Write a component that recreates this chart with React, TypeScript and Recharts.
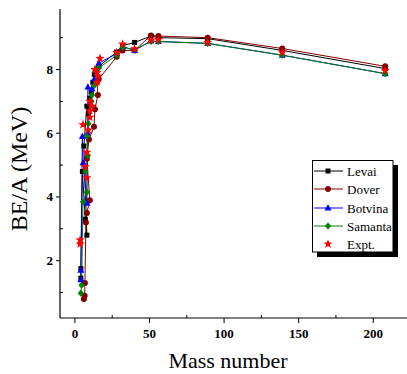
import React from 'react';
import { ComposedChart, Line, XAxis, YAxis } from 'recharts';

const levaiA = [4, 4, 5, 7, 8, 6, 8, 9, 10, 11, 12, 13, 16, 28, 32, 40, 51, 56, 89, 139, 208];
const levaiBE = [1.45, 1.75, 4.8, 3.3, 2.8, 5.6, 6.85, 6.6, 7.1, 7.3, 7.6, 7.85, 8.1, 8.55, 8.75, 8.85, 9.05, 9.0, 8.97, 8.6, 8.03];

const doverA = [6, 6.5, 6.7, 7.4, 8, 10, 8, 9.4, 12.8, 13.4, 15.4, 14.8, 16, 28, 32, 40, 51, 56, 89, 139, 208];
const doverBE = [0.8, 0.9, 1.3, 3.2, 3.5, 3.9, 5.2, 5.8, 6.2, 6.75, 7.2, 7.6, 7.7, 8.4, 8.6, 8.6, 9.07, 9.05, 9.0, 8.66, 8.1];

const botvinaA = [4, 4, 5, 5.5, 8, 8.5, 8.7, 11.4, 13, 14, 16, 28, 32, 40, 51, 56, 89, 139, 208];
const botvinaBE = [1.4, 1.7, 5.9, 5.07, 3.8, 6.0, 7.45, 7.4, 7.7, 8.0, 8.2, 8.5, 8.72, 8.6, 8.9, 8.88, 8.82, 8.45, 7.87];

const samantaA = [4, 4.5, 5.4, 8, 7, 8.7, 8, 9, 11, 11.4, 13, 16, 28, 32, 40, 51, 56, 89, 139, 208];
const samantaBE = [0.98, 1.23, 3.85, 4.15, 4.8, 5.3, 5.9, 6.3, 7.0, 7.2, 7.5, 8.05, 8.45, 8.7, 8.63, 8.88, 8.88, 8.82, 8.45, 7.87];

const exptA = [3.5, 3.5, 5.4, 8, 7, 8, 9, 10, 10, 11.4, 10, 14.8, 15.4, 14.8, 13.4, 16.8, 28, 32, 40, 51, 56, 89, 139, 208];
const exptBE = [2.65, 2.52, 6.27, 5.4, 4.95, 4.6, 6.1, 6.5, 6.7, 6.85, 7.0, 7.6, 7.8, 7.9, 8.0, 8.35, 8.53, 8.8, 8.65, 8.92, 8.94, 8.85, 8.54, 7.97];

const xTicks = [0, 25, 50, 75, 100, 125, 150, 175, 200, 225];
const yTicks = [1, 2, 3, 4, 5, 6, 7, 8, 9];
const seriesNames = ['Levai', 'Dover', 'Botvina', 'Samanta', 'Expt.'];
const xTitle = 'Mass number';
const yTitle = 'BE/A (MeV)';

const zip = (a: number[], b: number[]) => a.map((v, i) => ({ a: v, be: b[i] }));
const levai = zip(levaiA, levaiBE);
const dover = zip(doverA, doverBE);
const botvina = zip(botvinaA, botvinaBE);
const samanta = zip(samantaA, samantaBE);
const expt = zip(exptA, exptBE);

const FONT = "'Times New Roman', 'Liberation Serif', Tinos, serif";
const COLORS = ['#000000', '#800000', '#0000ff', '#008000', '#ff0000'];

const Square = ({ cx, cy, c }: any) => <rect x={cx - 2.5} y={cy - 2.5} width={5} height={5} fill={c} />;
const Circle = ({ cx, cy, c }: any) => <circle cx={cx} cy={cy} r={3} fill={c} />;
const Tri = ({ cx, cy, c }: any) => (
  <path d={`M${cx},${cy - 3.8}L${cx + 3.5},${cy + 2.5}L${cx - 3.5},${cy + 2.5}Z`} fill={c} />
);
const Diamond = ({ cx, cy, c }: any) => (
  <path d={`M${cx},${cy - 3.6}L${cx + 3.2},${cy}L${cx},${cy + 3.6}L${cx - 3.2},${cy}Z`} fill={c} />
);
const Star = ({ cx, cy, c }: any) => {
  const pts: string[] = [];
  for (let i = 0; i < 10; i++) {
    const r = i % 2 === 0 ? 4.8 : 2.0;
    const ang = -Math.PI / 2 + (i * Math.PI) / 5;
    pts.push(`${cx + r * Math.cos(ang)},${cy + r * Math.sin(ang)}`);
  }
  return <polygon points={pts.join(' ')} fill={c} />;
};
const MARKERS = [Square, Circle, Tri, Diamond, Star];

const makeDot = (idx: number) => (p: any) => {
  const M = MARKERS[idx];
  if (p.cx == null || p.cy == null) return <g key={p.index} />;
  return <M key={p.index} cx={p.cx} cy={p.cy} c={COLORS[idx]} />;
};

const BottomTick = ({ x, y, payload }: any) => {
  const v = payload.value;
  const major = v % 50 === 0;
  return (
    <g>
      {major ? (
        <line x1={x} x2={x} y1={y} y2={y + 5} stroke="#000" />
      ) : (
        <line x1={x} x2={x} y1={y} y2={y - 3} stroke="#000" />
      )}
      {major && (
        <text x={x} y={y + 20} textAnchor="middle" style={{ fontFamily: FONT, fontWeight: 'bold', fontSize: 13 }} fill="#000">
          {v}
        </text>
      )}
    </g>
  );
};

const TopTick = ({ x, y }: any) => <line x1={x} x2={x} y1={y} y2={y + 2.5} stroke="#444" />;

const LeftTick = ({ x, y, payload }: any) => {
  const v = payload.value;
  const major = v % 2 === 0;
  return (
    <g>
      {major ? (
        <line x1={x - 4} x2={x} y1={y} y2={y} stroke="#000" />
      ) : (
        <line x1={x} x2={x + 3} y1={y} y2={y} stroke="#000" />
      )}
      {major && (
        <text x={x - 7} y={y + 4.5} textAnchor="end" style={{ fontFamily: FONT, fontWeight: 'bold', fontSize: 13 }} fill="#000">
          {v}
        </text>
      )}
    </g>
  );
};

const LegendBox = () => {
  const rows = [171, 189, 208, 226, 244];
  return (
    <g>
      <rect x={317} y={165} width={81} height={92} fill="#000" />
      <rect x={312.5} y={160.5} width={80.5} height={91.5} fill="#fff" stroke="#000" />
      {seriesNames.map((n, i) => {
        const M = MARKERS[i];
        return (
          <g key={n}>
            {i < 4 && <line x1={314} x2={343} y1={rows[i]} y2={rows[i]} stroke={COLORS[i]} strokeWidth={1} />}
            <M cx={328} cy={rows[i]} c={COLORS[i]} />
            <text x={347} y={rows[i] + 4.5} style={{ fontFamily: FONT, fontSize: 13 }} fill="#000">
              {n}
            </text>
          </g>
        );
      })}
    </g>
  );
};

export default function App() {
  return (
    <div style={{ position: 'fixed', left: 0, top: 0, width: 407, height: 374, overflow: 'hidden', background: '#fff' }}>
      <ComposedChart width={420} height={374} margin={{ top: 9, right: 2, bottom: 0, left: 0 }}>
        <XAxis
          xAxisId="b"
          dataKey="a"
          type="number"
          domain={[-10, 230]}
          allowDataOverflow
          ticks={xTicks}
          interval={0}
          tickSize={0}
          tickMargin={0}
          tick={<BottomTick />}
          axisLine={{ stroke: '#000', strokeWidth: 1.2 }}
          tickLine={false}
          height={56}
        />
        <XAxis
          xAxisId="t"
          orientation="top"
          dataKey="a"
          type="number"
          domain={[-10, 230]}
          allowDataOverflow
          ticks={xTicks}
          interval={0}
          tickSize={0}
          tickMargin={0}
          tick={<TopTick />}
          axisLine={{ stroke: '#555', strokeWidth: 1.2 }}
          tickLine={false}
          height={0}
        />
        <YAxis
          type="number"
          domain={[0.2, 9.9]}
          allowDataOverflow
          ticks={yTicks}
          interval={0}
          tickSize={0}
          tickMargin={0}
          tick={<LeftTick />}
          axisLine={{ stroke: '#000', strokeWidth: 1.2 }}
          tickLine={false}
          width={60}
        />
        <Line xAxisId="b" data={levai} dataKey="be" stroke={COLORS[0]} strokeWidth={1} dot={makeDot(0)} isAnimationActive={false} />
        <Line xAxisId="b" data={dover} dataKey="be" stroke={COLORS[1]} strokeWidth={1} dot={makeDot(1)} isAnimationActive={false} />
        <Line xAxisId="b" data={botvina} dataKey="be" stroke={COLORS[2]} strokeWidth={1} dot={makeDot(2)} isAnimationActive={false} />
        <Line xAxisId="b" data={samanta} dataKey="be" stroke={COLORS[3]} strokeWidth={1} dot={makeDot(3)} isAnimationActive={false} />
        <Line xAxisId="b" data={expt} dataKey="be" stroke="none" strokeWidth={0} dot={makeDot(4)} isAnimationActive={false} />
      </ComposedChart>
      <svg width={407} height={374} style={{ position: 'absolute', left: 0, top: 0, pointerEvents: 'none' }}>
        <LegendBox />
        <text x={228} y={368} textAnchor="middle" style={{ fontFamily: FONT, fontSize: 22 }} fill="#000">
          {xTitle}
        </text>
        <text transform="translate(27,169) rotate(-90)" textAnchor="middle" style={{ fontFamily: FONT, fontSize: 24 }} fill="#000">
          {yTitle}
        </text>
      </svg>
    </div>
  );
}
